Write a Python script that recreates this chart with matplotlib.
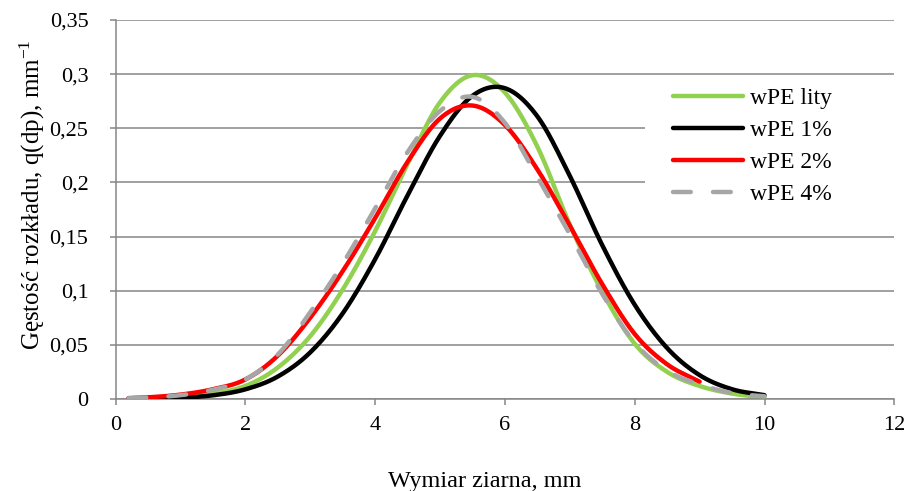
import numpy as np
import matplotlib
matplotlib.use("Agg")
import matplotlib.pyplot as plt
from matplotlib.patches import Rectangle

plt.rcParams['font.family'] = ['Liberation Serif', 'DejaVu Serif']
plt.rcParams['mathtext.fontset'] = 'custom'
plt.rcParams['mathtext.rm'] = 'Liberation Serif'

# Grain size, mm
x_full = [0.2, 0.5, 1.0, 1.5, 2.0, 2.5, 3.0, 3.5, 4.0, 4.5, 5.0, 5.5, 6.0,
          6.5, 7.0, 7.5, 8.0, 8.5, 9.0, 9.5, 10.0]
x_red = [0.2, 0.5, 1.0, 1.5, 2.0, 2.5, 3.0, 3.5, 4.0, 4.5, 5.0, 5.5, 6.0,
         6.5, 7.0, 7.5, 8.0, 8.5, 9.0]

# Distribution density q(dp), 1/mm
q_lity = [0.0002, 0.0006, 0.0018, 0.005, 0.012, 0.029, 0.058, 0.101, 0.155,
          0.217, 0.274, 0.299, 0.283, 0.233, 0.161, 0.099, 0.051, 0.025,
          0.012, 0.005, 0.0015]
q_1 = [0.0001, 0.00035, 0.0012, 0.0034, 0.0089, 0.0207, 0.043, 0.079, 0.129,
       0.188, 0.243, 0.280, 0.287, 0.261, 0.206, 0.142, 0.087, 0.047,
       0.022, 0.009, 0.0035]
q_2 = [0.0008, 0.0015, 0.004, 0.009, 0.018, 0.040, 0.075, 0.118, 0.167,
       0.219, 0.259, 0.271, 0.253, 0.212, 0.160, 0.106, 0.060, 0.032, 0.016]
q_4 = [0.0007, 0.0013, 0.0035, 0.0085, 0.018, 0.041, 0.080, 0.125, 0.176,
       0.228, 0.266, 0.279, 0.255, 0.205, 0.152, 0.097, 0.052, 0.026,
       0.0135, 0.0055, 0.0025]

labels = ['wPE lity', 'wPE 1%', 'wPE 2%', 'wPE 4%']
x_ticks = [0, 2, 4, 6, 8, 10, 12]
y_ticks = [0, 0.05, 0.1, 0.15, 0.2, 0.25, 0.3, 0.35]
y_ticklabels = ['0', '0,05', '0,1', '0,15', '0,2', '0,25', '0,3', '0,35']


def smooth(xs, ys, n=24):
    """Catmull-Rom spline through the points (smoothed line)."""
    p = np.column_stack([xs, ys]).astype(float)
    p = np.vstack([2 * p[0] - p[1], p, 2 * p[-1] - p[-2]])
    t = np.linspace(0, 1, n, endpoint=False)[:, None]
    segs = []
    for i in range(1, len(p) - 2):
        p0, p1, p2, p3 = p[i - 1], p[i], p[i + 1], p[i + 2]
        seg = 0.5 * (2 * p1 + (-p0 + p2) * t
                     + (2 * p0 - 5 * p1 + 4 * p2 - p3) * t ** 2
                     + (-p0 + 3 * p1 - 3 * p2 + p3) * t ** 3)
        segs.append(seg)
    segs.append(p[-2][None, :])
    s = np.vstack(segs)
    return s[:, 0], s[:, 1]


fig = plt.figure(figsize=(9.06, 4.91), dpi=100)
ax = fig.add_axes([0.1275, 0.1874, 0.8596, 0.7719])

grid_col = '#868686'
ax.set_xlim(0, 12)
ax.set_ylim(0, 0.35)
ax.set_yticks(y_ticks)
ax.set_yticklabels(y_ticklabels)
ax.set_xticks(x_ticks)
ax.yaxis.grid(True, color=grid_col, linewidth=1.1, zorder=0)
ax.set_axisbelow(True)
for s in ['top', 'right']:
    ax.spines[s].set_visible(False)
for s in ['left', 'bottom']:
    ax.spines[s].set_color(grid_col)
    ax.spines[s].set_linewidth(1.1)
ax.tick_params(axis='both', colors=grid_col, length=4.5, width=1.1,
               labelcolor='black', labelsize=16)
ax.tick_params(axis='y', pad=15)
ax.tick_params(axis='x', pad=8)

# white legend background over the gridlines
ax.add_patch(Rectangle((0.68, 0.485), 0.32, 0.357, transform=ax.transAxes,
                       facecolor='white', edgecolor='none', zorder=1.5))

lw = 3.2
xs, ys = smooth(x_full, q_lity)
ax.plot(xs, ys, color='#92D050', lw=lw, solid_capstyle='round', zorder=2,
        label=labels[0])
xs, ys = smooth(x_full, q_1)
ax.plot(xs, ys, color='black', lw=lw, solid_capstyle='round', zorder=3,
        label=labels[1])
xs, ys = smooth(x_red, q_2)
ax.plot(xs, ys, color='#FF0000', lw=lw, solid_capstyle='round', zorder=4,
        label=labels[2])
xs, ys = smooth(x_full, q_4)
ax.plot(xs, ys, color='#A6A6A6', lw=lw, linestyle=(0, (4, 5)),
        dash_capstyle='round', zorder=5, label=labels[3])

leg = ax.legend(loc='upper left', bbox_to_anchor=(0.71, 0.835), frameon=False,
                fontsize=17, handlelength=2.97, handletextpad=0.3,
                labelspacing=0.45, borderpad=0.2, borderaxespad=0)

fig.text(0.535, 1 - 481 / 491, 'Wymiar ziarna, mm', ha='center', va='center',
         fontsize=17.5)
fig.text(32 / 906, 1 - 195 / 491,
         r'Gęstość rozkładu, q(dp), mm$\mathregular{^{-1}}$',
         ha='center', va='center', rotation=90, fontsize=18)

fig.savefig('out.png', dpi=100)
